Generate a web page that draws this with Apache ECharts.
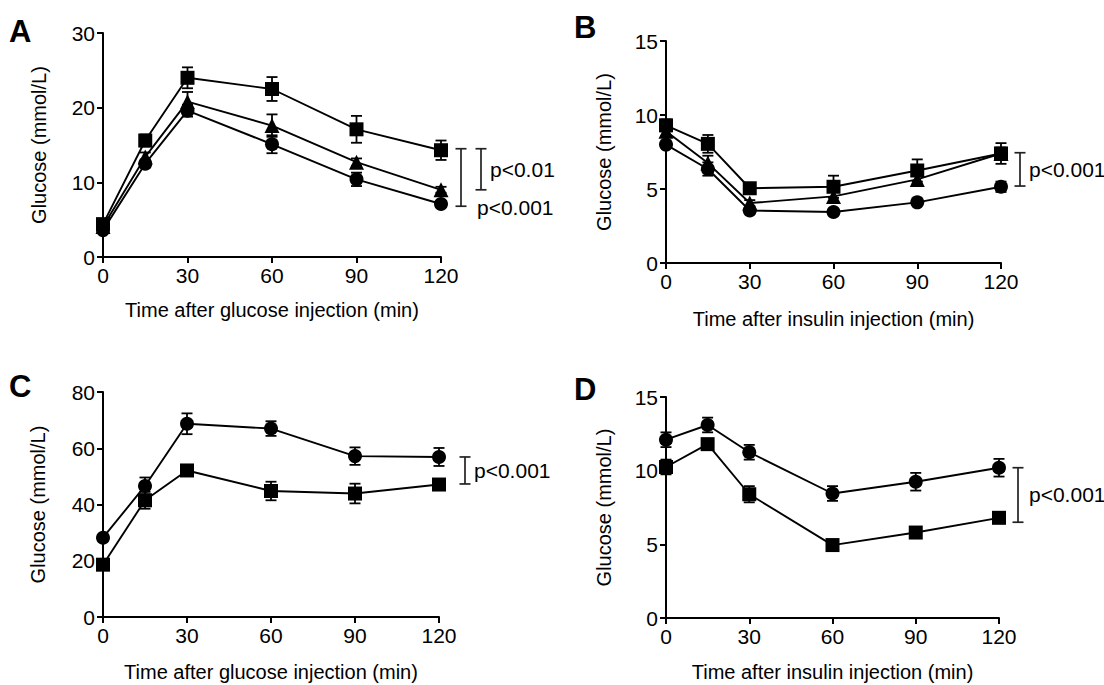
<!DOCTYPE html>
<html>
<head>
<meta charset="utf-8">
<script src="https://cdn.jsdelivr.net/npm/echarts@6/dist/echarts.min.js"></script>
<style>
html, body { margin: 0; padding: 0; background: #fff; }
#chart { width: 1104px; height: 685px; }
</style>
</head>
<body>
<div id="chart"></div>
<script>
// time points (min)
const times = [0, 15, 30, 60, 90, 120];

// A: glucose tolerance, three groups
const aSquare = [4.4, 15.6, 24.0, 22.5, 17.1, 14.3];
const aSquareErr = [0.4, 0.8, 1.4, 1.6, 1.8, 1.3];
const aTriangle = [4.1, 13.4, 20.8, 17.6, 12.7, 9.0];
const aTriangleErr = [0.3, 0.6, 1.3, 1.5, 0.5, 0.4];
const aCircle = [3.6, 12.5, 19.6, 15.1, 10.4, 7.1];
const aCircleErr = [0.3, 0.5, 0.8, 1.2, 0.9, 0.4];

// B: insulin tolerance, three groups
const bSquare = [9.3, 8.05, 5.05, 5.15, 6.25, 7.4];
const bSquareErr = [0.4, 0.6, 0.3, 0.75, 0.75, 0.7];
const bTriangle = [8.9, 6.75, 4.05, 4.5, 5.65, 7.4];
const bTriangleErr = [0.3, 0.5, 0.2, 0.3, 0.3, 0.4];
const bCircle = [8.0, 6.35, 3.55, 3.45, 4.1, 5.15];
const bCircleErr = [0.2, 0.45, 0.2, 0.15, 0.15, 0.35];

// C: glucose tolerance, two groups
const cCircle = [28.2, 46.6, 68.7, 67.0, 57.2, 56.9];
const cCircleErr = [1.0, 3.0, 3.7, 2.6, 3.1, 3.2];
const cSquare = [18.6, 41.5, 52.1, 44.8, 43.9, 47.1];
const cSquareErr = [1.0, 3.0, 1.0, 3.3, 3.5, 1.0];

// D: insulin tolerance, two groups
const dCircle = [12.1, 13.1, 11.25, 8.45, 9.25, 10.2];
const dCircleErr = [0.5, 0.5, 0.5, 0.5, 0.6, 0.6];
const dSquare = [10.25, 11.8, 8.4, 4.95, 5.8, 6.8];
const dSquareErr = [0.5, 0.2, 0.55, 0.15, 0.2, 0.35];

// y axis ranges
const yMax = [30, 15, 80, 15];
const yStep = [10, 5, 20, 5];

// significance brackets (value ranges + labels)
const aBracketLo = [6.8, 9.0];
const aBracketHi = [14.5, 14.5];
const aBracketText = ['p<0.001', 'p<0.01'];
const bBracketLo = [5.2];
const bBracketHi = [7.45];
const bBracketText = ['p<0.001'];
const cBracketLo = [47.3];
const cBracketHi = [56.9];
const cBracketText = ['p<0.001'];
const dBracketLo = [6.5];
const dBracketHi = [10.2];
const dBracketText = ['p<0.001'];

const xTitles = ['Time after glucose injection (min)', 'Time after insulin injection (min)',
  'Time after glucose injection (min)', 'Time after insulin injection (min)'];
const yTitle = 'Glucose (mmol/L)';
const letters = ['A', 'B', 'C', 'D'];

const FONT = '"Liberation Sans", Arial, sans-serif';

const grids = [
  { left: 103, top: 33, width: 338, height: 224 },
  { left: 666, top: 41, width: 335, height: 222 },
  { left: 103, top: 392, width: 336, height: 225 },
  { left: 666, top: 397, width: 333, height: 221 }
];
const xNameGap = [43, 46, 45, 44];
const yNameGap = [54, 52, 55, 52];
const letterPos = [[9, 16], [574, 12], [9, 371], [574, 374]];

function lineSeries(idx, values, symbol, size) {
  return {
    type: 'line', xAxisIndex: idx, yAxisIndex: idx,
    data: times.map((t, i) => [t, values[i]]),
    symbol: symbol, symbolSize: size, showAllSymbol: true,
    lineStyle: { color: '#000', width: 1.9 },
    itemStyle: { color: '#000' },
    z: 3
  };
}

function errSeries(idx, values, errs) {
  return {
    type: 'custom', xAxisIndex: idx, yAxisIndex: idx, clip: false, z: 2,
    data: times.map((t, i) => [t, values[i] - errs[i], values[i] + errs[i]]),
    encode: { x: 0, y: [1, 2] },
    renderItem: function (params, api) {
      const lo = api.coord([api.value(0), api.value(1)]);
      const hi = api.coord([api.value(0), api.value(2)]);
      const w = 5.5;
      const st = { stroke: '#000', lineWidth: 1.8 };
      return {
        type: 'group',
        children: [
          { type: 'line', shape: { x1: lo[0], y1: lo[1], x2: hi[0], y2: hi[1] }, style: st },
          { type: 'line', shape: { x1: lo[0] - w, y1: lo[1], x2: lo[0] + w, y2: lo[1] }, style: st },
          { type: 'line', shape: { x1: hi[0] - w, y1: hi[1], x2: hi[0] + w, y2: hi[1] }, style: st }
        ]
      };
    }
  };
}

// dx: bracket offset right of last time point, tdx: text offset from bracket
function bracketSeries(idx, lo, hi, labels, layout) {
  const tEnd = times[times.length - 1];
  return {
    type: 'custom', xAxisIndex: idx, yAxisIndex: idx, clip: false, z: 2,
    data: lo.map((v, i) => [tEnd, v, hi[i], i]),
    encode: { x: 0, y: [1, 2] },
    renderItem: function (params, api) {
      const i = api.value(3);
      const L = layout[i];
      const b = api.coord([api.value(0), api.value(1)]);
      const t = api.coord([api.value(0), api.value(2)]);
      const x = b[0] + L.dx;
      const w = 5.5;
      const st = { stroke: '#222', lineWidth: 1.7 };
      return {
        type: 'group',
        children: [
          { type: 'line', shape: { x1: x, y1: t[1], x2: x, y2: b[1] }, style: st },
          { type: 'line', shape: { x1: x - w, y1: t[1], x2: x + w, y2: t[1] }, style: st },
          { type: 'line', shape: { x1: x - w, y1: b[1], x2: x + w, y2: b[1] }, style: st },
          {
            type: 'text', x: x + L.tdx,
            y: L.low ? b[1] + 1 : (t[1] + b[1]) / 2,
            style: {
              text: labels[i], fill: '#000', fontSize: 21, fontFamily: FONT,
              align: 'left', verticalAlign: 'middle'
            }
          }
        ]
      };
    }
  };
}

const xAxes = grids.map((g, i) => ({
  type: 'value', gridIndex: i, min: 0, max: 120, interval: 30,
  name: xTitles[i], nameLocation: 'middle', nameGap: xNameGap[i],
  nameTextStyle: { color: '#000', fontSize: 20, fontFamily: FONT },
  axisLine: { show: true, lineStyle: { color: '#000', width: 2 } },
  axisTick: { show: true, length: 6, lineStyle: { color: '#000', width: 2 } },
  axisLabel: { color: '#000', fontSize: 21, fontFamily: FONT, margin: 8 },
  splitLine: { show: false }
}));

const yAxes = grids.map((g, i) => ({
  type: 'value', gridIndex: i, min: 0, max: yMax[i], interval: yStep[i],
  name: yTitle, nameLocation: 'middle', nameGap: yNameGap[i], nameRotate: 90,
  nameTextStyle: { color: '#000', fontSize: 20, fontFamily: FONT },
  axisLine: { show: true, lineStyle: { color: '#000', width: 2 } },
  axisTick: { show: true, length: 6, lineStyle: { color: '#000', width: 2 } },
  axisLabel: { color: '#000', fontSize: 21, fontFamily: FONT, margin: 8 },
  splitLine: { show: false }
}));

const chart = echarts.init(document.getElementById('chart'), null, { renderer: 'svg' });
chart.setOption({
  animation: false,
  backgroundColor: '#fff',
  title: letters.map((l, i) => ({
    text: l, left: letterPos[i][0], top: letterPos[i][1], padding: 0,
    textStyle: { color: '#000', fontSize: 31, fontWeight: 'bold', fontFamily: FONT }
  })),
  grid: grids,
  xAxis: xAxes,
  yAxis: yAxes,
  series: [
    errSeries(0, aSquare, aSquareErr),
    errSeries(0, aTriangle, aTriangleErr),
    errSeries(0, aCircle, aCircleErr),
    lineSeries(0, aSquare, 'rect', 14),
    lineSeries(0, aTriangle, 'triangle', 15),
    lineSeries(0, aCircle, 'circle', 14),
    bracketSeries(0, aBracketLo, aBracketHi, aBracketText,
      [{ dx: 20, tdx: 16, low: true }, { dx: 40, tdx: 9, low: false }]),

    errSeries(1, bSquare, bSquareErr),
    errSeries(1, bTriangle, bTriangleErr),
    errSeries(1, bCircle, bCircleErr),
    lineSeries(1, bSquare, 'rect', 14),
    lineSeries(1, bTriangle, 'triangle', 15),
    lineSeries(1, bCircle, 'circle', 14),
    bracketSeries(1, bBracketLo, bBracketHi, bBracketText, [{ dx: 19, tdx: 9, low: false }]),

    errSeries(2, cCircle, cCircleErr),
    errSeries(2, cSquare, cSquareErr),
    lineSeries(2, cCircle, 'circle', 14),
    lineSeries(2, cSquare, 'rect', 14),
    bracketSeries(2, cBracketLo, cBracketHi, cBracketText, [{ dx: 26, tdx: 9, low: false }]),

    errSeries(3, dCircle, dCircleErr),
    errSeries(3, dSquare, dSquareErr),
    lineSeries(3, dCircle, 'circle', 14),
    lineSeries(3, dSquare, 'rect', 14),
    bracketSeries(3, dBracketLo, dBracketHi, dBracketText, [{ dx: 19, tdx: 11, low: false }])
  ]
});
</script>
</body>
</html>
